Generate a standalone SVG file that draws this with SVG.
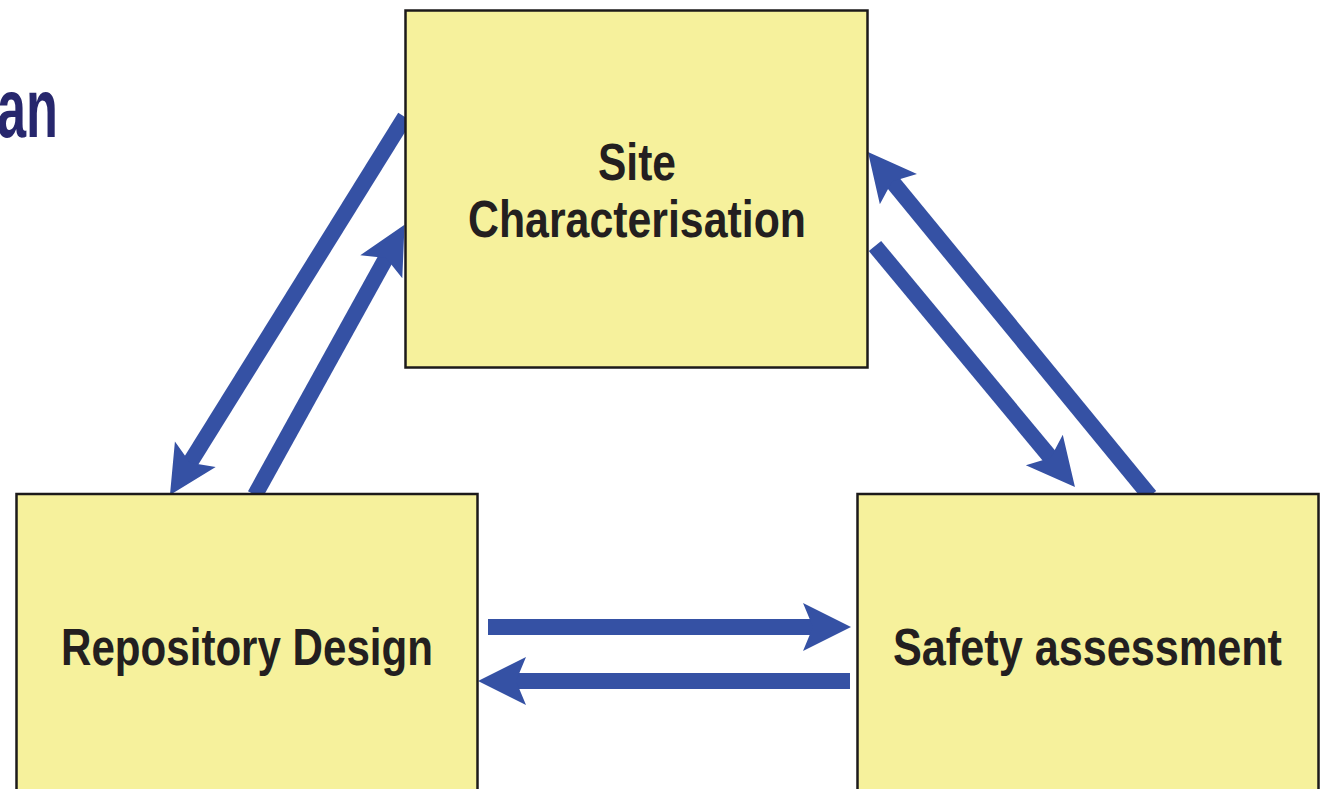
<svg xmlns="http://www.w3.org/2000/svg" width="1321" height="789" viewBox="0 0 1321 789">
<style>
.box{fill:#F6F19C;stroke:#1c1a1a;stroke-width:2.5}
.lbl{font-family:"Liberation Sans",Arial,sans-serif;font-weight:bold;font-size:52px;fill:#231F20}
.conn{stroke:#3551A4;stroke-width:16;fill:none;stroke-linecap:butt;marker-end:url(#head)}
.title{font-family:"Liberation Sans",Arial,sans-serif;font-weight:bold;font-size:84px;fill:#27276D}
</style>
<defs>
<marker id="head" markerUnits="userSpaceOnUse" markerWidth="60" markerHeight="60" viewBox="-20 -30 60 60" refX="0" refY="0" orient="auto">
<path d="M30,0 L-18,-24 L-8,0 L-18,24 Z" fill="#3551A4"/>
</marker>
</defs>
<rect width="1321" height="789" fill="#ffffff"/>
<text class="title" x="-3" y="137" textLength="61" lengthAdjust="spacingAndGlyphs">an</text>
<g id="connectors">
<path class="conn" d="M488,627 L821,627"/>
<path class="conn" d="M850,681 L508,681"/>
<path class="conn" d="M405,117 L185.8,469.5"/>
<path class="conn" d="M255,495 L390,251"/>
<path class="conn" d="M1150,496 L887,175.2"/>
<path class="conn" d="M875,246 L1055.8,463.9"/>
</g>
<g id="site">
<rect class="box" x="405.5" y="10.5" width="462" height="357"/>
<text class="lbl" x="637" y="180" text-anchor="middle" textLength="78" lengthAdjust="spacingAndGlyphs">Site</text>
<text class="lbl" x="637" y="237" text-anchor="middle" textLength="338" lengthAdjust="spacingAndGlyphs">Characterisation</text>
</g>
<g id="repository">
<rect class="box" x="16.5" y="494" width="461" height="310"/>
<text class="lbl" x="247" y="665" text-anchor="middle" textLength="372" lengthAdjust="spacingAndGlyphs">Repository Design</text>
</g>
<g id="safety">
<rect class="box" x="857.5" y="494" width="461" height="310"/>
<text class="lbl" x="1087.5" y="665" text-anchor="middle" textLength="389" lengthAdjust="spacingAndGlyphs">Safety assessment</text>
</g>
</svg>
